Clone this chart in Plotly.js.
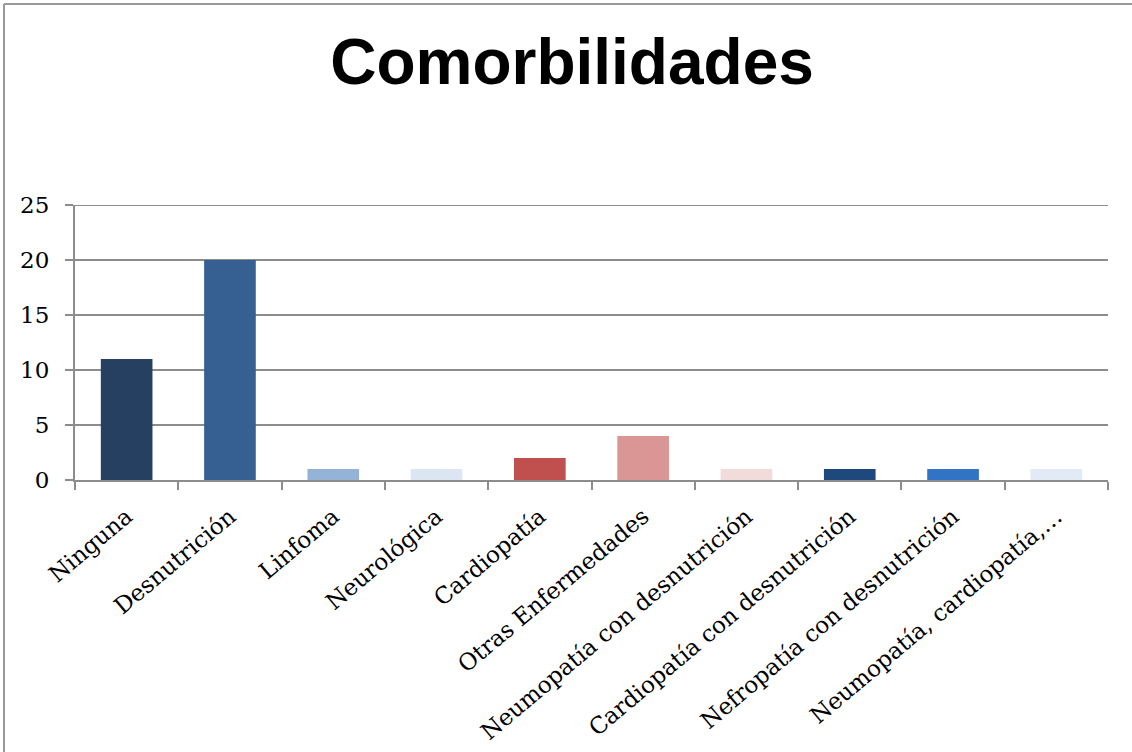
<!DOCTYPE html>
<html>
<head>
<meta charset="utf-8">
<script src="https://cdn.plot.ly/plotly-3.0.1.min.js"></script>
<style>
  html, body { margin: 0; padding: 0; background: #fff; }
  #chart { width: 1132px; height: 752px; }
</style>
</head>
<body>
<div id="chart"></div>
<script>
// Comorbidity categories and patient counts
const categories = [
  "Ninguna",
  "Desnutrición",
  "Linfoma",
  "Neurológica",
  "Cardiopatía",
  "Otras Enfermedades",
  "Neumopatía con desnutrición",
  "Cardiopatía con desnutrición",
  "Nefropatía con desnutrición",
  "Neumopatía, cardiopatía,…"
];
const counts = [11, 20, 1, 1, 2, 4, 1, 1, 1, 1];
const barColors = [
  "#264061", "#376092", "#95B3D7", "#DCE6F2", "#C0504D",
  "#D99694", "#F2DCDB", "#1F497D", "#3174C6", "#E2EAF6"
];
const yTicks = [0, 5, 10, 15, 20, 25];

const W = 1132, H = 752;
const margin = { l: 75, r: 24, t: 205, b: 272 };
const plotW = W - margin.l - margin.r;
const plotH = H - margin.t - margin.b;
// convert page pixels to paper fractions for the outer frame
const px = x => (x - margin.l) / plotW;
const py = y => (H - margin.b - y) / plotH;

const gray = "#8c8c8c";
const xTickFont = { family: "DejaVu Serif, serif", size: 23, color: "#000" };
const yTickFont = { family: "DejaVu Serif, serif", size: 23, color: "#000" };

const trace = {
  type: "bar",
  x: categories,
  y: counts,
  marker: { color: barColors, line: { width: 0 } },
  hoverinfo: "x+y"
};

const layout = {
  width: W,
  height: H,
  margin: margin,
  paper_bgcolor: "#fff",
  plot_bgcolor: "#fff",
  showlegend: false,
  bargap: 0.5,
  title: {
    text: "<b>Comorbilidades</b>",
    font: { family: "Liberation Sans, Arial, sans-serif", size: 64, color: "#000" },
    x: 572 / W,
    xanchor: "center",
    y: 1 - 62 / H,
    yanchor: "middle"
  },
  xaxis: {
    type: "category",
    tickangle: -40,
    tickfont: xTickFont,
    ticks: "outside",
    tickson: "boundaries",
    ticklen: 8,
    tickwidth: 2,
    tickcolor: gray,
    ticklabelstandoff: 12,
    showline: true,
    linecolor: gray,
    linewidth: 2,
    showgrid: false,
    zeroline: false,
    fixedrange: true
  },
  yaxis: {
    range: [0, 25],
    tickvals: yTicks,
    ticktext: yTicks.map(String),
    tickfont: yTickFont,
    ticks: "outside",
    ticklen: 8,
    tickwidth: 2,
    tickcolor: gray,
    ticklabelstandoff: 11,
    showline: true,
    linecolor: gray,
    linewidth: 2,
    showgrid: true,
    gridcolor: gray,
    gridwidth: 2,
    zeroline: false,
    fixedrange: true
  },
  shapes: [
    // gridline at the top of the value range
    { type: "line", xref: "paper", yref: "y", x0: 0, x1: 1, y0: 25, y1: 25,
      line: { color: gray, width: 2 } },
    // outer chart frame (top and left edges)
    { type: "line", xref: "paper", yref: "paper", x0: px(4), x1: px(W + 2), y0: py(4), y1: py(4),
      line: { color: "#999", width: 2 } },
    { type: "line", xref: "paper", yref: "paper", x0: px(4), x1: px(4), y0: py(4), y1: py(H + 2),
      line: { color: "#999", width: 2 } }
  ]
};

Plotly.newPlot("chart", [trace], layout, { displayModeBar: false, staticPlot: true });
</script>
</body>
</html>
